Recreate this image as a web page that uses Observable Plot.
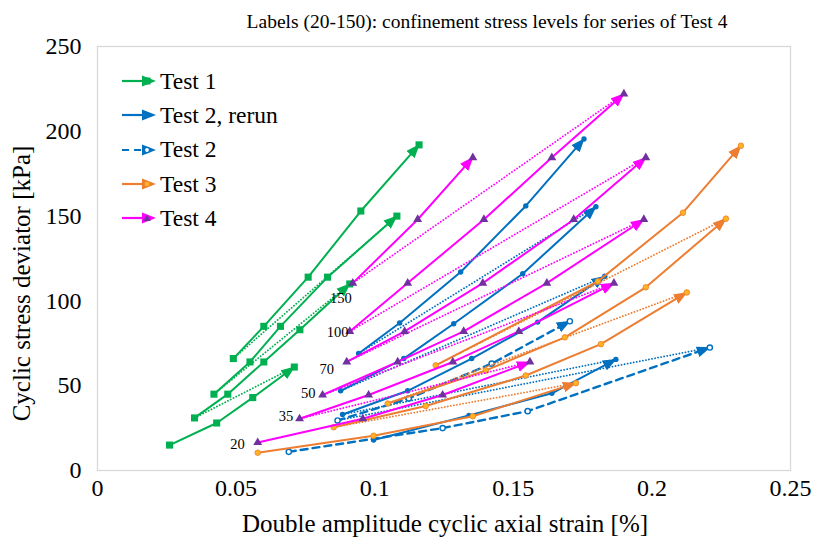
<!DOCTYPE html>
<html><head><meta charset="utf-8">
<script src="https://cdn.jsdelivr.net/npm/d3@7"></script>
<script src="https://cdn.jsdelivr.net/npm/@observablehq/plot@0.6"></script>
<style>
body{margin:0;background:#fff;}
#wrap{position:relative;width:814px;height:548px;font-family:"Liberation Serif","DejaVu Serif",serif;}
#legend{position:absolute;left:120px;top:64px;}
.item{display:flex;align-items:center;height:34.3px;font-size:23.5px;color:#000;white-space:nowrap}
.item svg{margin-right:3px}
</style></head><body><div id="wrap"><div id="legend"></div></div>
<script>
// ---- axis ticks ----
const xTicks = [0, 0.05, 0.1, 0.15, 0.2, 0.25];
const yTicks = [0, 50, 100, 150, 200, 250];
const titleText = "Labels (20-150): confinement stress levels for series of Test 4";
const xLabel = "Double amplitude cyclic axial strain [%]";
const yLabel = "Cyclic stress deviator [kPa]";

// ---- Test 1 (one inner list per confinement level, in test order) ----
const test1Strain = [
  [0.026, 0.043, 0.056, 0.071],
  [0.035, 0.047, 0.060, 0.073, 0.091],
  [0.042, 0.055, 0.066, 0.083, 0.108],
  [0.049, 0.060, 0.076, 0.095, 0.116]
];
const test1Stress = [
  [15, 28, 43, 61],
  [31, 45, 64, 83, 110],
  [45, 64, 85, 114, 150],
  [66, 85, 114, 153, 192]
];

// ---- Test 2, rerun ----
const test2rStrain = [
  [0.0996, 0.134, 0.1639, 0.187],
  [0.0884, 0.1119, 0.135, 0.1588, 0.183],
  [0.0877, 0.1105, 0.1285, 0.1534, 0.1798],
  [0.0942, 0.109, 0.131, 0.1545, 0.1755]
];
const test2rStress = [
  [18, 32.5, 45.5, 65.5],
  [33, 47, 66, 87.5, 114.5],
  [47, 66, 86.5, 116, 155.5],
  [69, 87, 117, 156, 195.5]
];

// ---- Test 2 ----
const test2Strain = [
  [0.069, 0.1245, 0.1552, 0.2209],
  [0.0866, 0.1123, 0.1422, 0.1704]
];
const test2Stress = [
  [11, 25, 35, 72.5],
  [29.5, 42.5, 63, 88]
];

// ---- Test 3 ----
const test3Strain = [
  [0.0578, 0.0996, 0.1354, 0.1726],
  [0.0852, 0.1184, 0.1545, 0.1816, 0.2126],
  [0.1047, 0.1401, 0.1686, 0.1978, 0.2267],
  [0.122, 0.1805, 0.2112, 0.2321]
];
const test3Stress = [
  [10.5, 20.5, 32, 51.5],
  [25.5, 38, 56, 74.5, 105],
  [39.5, 59, 78.5, 108, 148.5],
  [62, 111.5, 152, 191.5]
];

// ---- Test 4 (confinement 20, 35, 50, 70, 100, 150) ----
const test4Strain = [
  [0.0578, 0.0957, 0.1245, 0.156],
  [0.0729, 0.0978, 0.1282, 0.152, 0.1863],
  [0.0812, 0.1083, 0.1321, 0.1621, 0.1971],
  [0.0899, 0.1108, 0.139, 0.1718, 0.1978],
  [0.091, 0.1119, 0.1394, 0.1639, 0.1899],
  [0.0921, 0.1155, 0.1354]
];
const test4Stress = [
  [16.5, 30.5, 44.5, 64],
  [30.5, 44.5, 64, 82, 110.5],
  [44.5, 64, 82, 110.5, 148],
  [64, 82, 110.5, 148, 184.5],
  [82, 110.5, 148, 184.5, 222],
  [110.5, 148, 184.5]
];
const test4LevelLabels = ["20", "35", "50", "70", "100", "150"];
const test4LabelStrain = [0.0505, 0.0680, 0.0760, 0.0827, 0.0866, 0.0878];
const test4LabelStress = [15.5, 32, 45.5, 59.5, 81.5, 101.5];

// ---- series styling ----
const series = [
  {name: "Test 1", strain: test1Strain, stress: test1Stress, color: "#00B050", dash: null,
   symbol: "square", r: 4, fill: "#00B050", dotStroke: "none", sw: 0},
  {name: "Test 2, rerun", strain: test2rStrain, stress: test2rStress, color: "#0070C0", dash: null,
   symbol: "circle", r: 2.7, fill: "#0070C0", dotStroke: "none", sw: 0},
  {name: "Test 2", strain: test2Strain, stress: test2Stress, color: "#0070C0", dash: "7,5",
   symbol: "circle", r: 2.6, fill: "#fff", dotStroke: "#0070C0", sw: 1.4},
  {name: "Test 3", strain: test3Strain, stress: test3Stress, color: "#ED7D31", dash: null,
   symbol: "circle", r: 2.8, fill: "#FFB321", dotStroke: "#ED7D31", sw: 0.8},
  {name: "Test 4", strain: test4Strain, stress: test4Stress, color: "#FF00FF", dash: null,
   symbol: "triangle", r: 3.3, fill: "#7030A0", dotStroke: "none", sw: 0}
];

function toRows(s) {
  const out = [];
  s.strain.forEach((xs, i) => xs.forEach((x, j) => out.push({level: i, strain: x, stress: s.stress[i][j]})));
  return out;
}
function transitions(s) {
  const out = [];
  for (let i = 0; i < s.strain.length - 1; i++) {
    const a = s.strain[i].length - 1;
    out.push({link: i, strain: s.strain[i][a], stress: s.stress[i][a]});
    out.push({link: i, strain: s.strain[i + 1][0], stress: s.stress[i + 1][0]});
  }
  return out;
}

const marks = [Plot.frame({stroke: "#d9d9d9", strokeWidth: 1.3})];
for (const s of series) {
  const rows = toRows(s);
  const links = transitions(s);
  marks.push(Plot.line(links, {x: "strain", y: "stress", z: "link", stroke: s.color,
    strokeWidth: 1.8, strokeDasharray: "0.1,3", strokeLinecap: "round"}));
  const lineOpts = {x: "strain", y: "stress", z: "level", stroke: s.color,
    strokeWidth: s.dash ? 2.4 : 2, markerEnd: "arrow"};
  if (s.dash) lineOpts.strokeDasharray = s.dash;
  marks.push(Plot.line(rows, lineOpts));
  marks.push(Plot.dot(rows, {x: "strain", y: "stress", symbol: s.symbol, r: s.r,
    fill: s.fill, stroke: s.dotStroke, strokeWidth: s.sw}));
}
const labelRows = test4LevelLabels.map((t, i) => ({t, strain: test4LabelStrain[i], stress: test4LabelStress[i]}));
marks.push(Plot.text(labelRows, {x: "strain", y: "stress", text: "t", fontSize: 14.5, fill: "#000"}));

marks.push(Plot.axisX(xTicks, {tickSize: 0, tickPadding: 8, fontSize: 24, label: null, tickFormat: d => String(d)}));
marks.push(Plot.axisY(yTicks, {tickSize: 0, tickPadding: 16, fontSize: 24, label: null}));
marks.push(Plot.text([titleText], {frameAnchor: "top", textAnchor: "middle", dy: -32, dx: 43, fontSize: 19.5, fill: "#000"}));
marks.push(Plot.text([xLabel], {frameAnchor: "bottom", textAnchor: "middle", dy: 61, dx: 1, fontSize: 25, fill: "#000"}));
marks.push(Plot.text([yLabel], {frameAnchor: "left", textAnchor: "middle", rotate: -90, dx: -76, dy: 25, fontSize: 25, fill: "#000"}));

const svg = Plot.plot({
  width: 814, height: 548,
  marginLeft: 97, marginRight: 24, marginTop: 46, marginBottom: 78,
  x: {domain: [0, 0.25]},
  y: {domain: [0, 250]},
  style: {fontFamily: "'Liberation Serif', 'DejaVu Serif', serif", background: "#fff", color: "#000"},
  marks
});

// filled Excel-like arrowheads
svg.querySelectorAll("marker").forEach(m => {
  const c = m.getAttribute("stroke") || "#000";
  m.setAttribute("viewBox", "-13 -6 14 12");
  m.setAttribute("markerWidth", "14");
  m.setAttribute("markerHeight", "12");
  m.setAttribute("markerUnits", "userSpaceOnUse");
  m.setAttribute("fill", c);
  m.setAttribute("stroke", "none");
  m.setAttribute("stroke-dasharray", "none");
  m.innerHTML = "";
  const p = document.createElementNS("http://www.w3.org/2000/svg", "path");
  p.setAttribute("d", "M-13,-5.5L1,0L-13,5.5Z");
  m.appendChild(p);
});

const wrap = document.getElementById("wrap");
wrap.insertBefore(svg, wrap.firstChild);

// legend
const legend = document.getElementById("legend");
for (const s of series) {
  let mk;
  if (s.symbol === "square") mk = `<rect x="23.5" y="6.5" width="7" height="7" fill="${s.fill}"/>`;
  else if (s.symbol === "triangle") mk = `<path d="M27,6.5L30.8,13L23.2,13Z" fill="${s.fill}"/>`;
  else mk = `<circle cx="27" cy="10" r="${s.r}" fill="${s.fill}" stroke="${s.dotStroke}" stroke-width="${s.sw}"/>`;
  const dash = s.dash ? `stroke-dasharray="${s.dash}"` : "";
  const div = document.createElement("div");
  div.className = "item";
  div.innerHTML = `<svg width="37" height="20"><line x1="2" y1="10" x2="30" y2="10" stroke="${s.color}" stroke-width="2.2" ${dash}/>
    <path d="M22,4.5L36,10L22,15.5Z" fill="${s.color}"/>${mk}</svg><span>${s.name}</span>`;
  legend.appendChild(div);
}
</script></body></html>
